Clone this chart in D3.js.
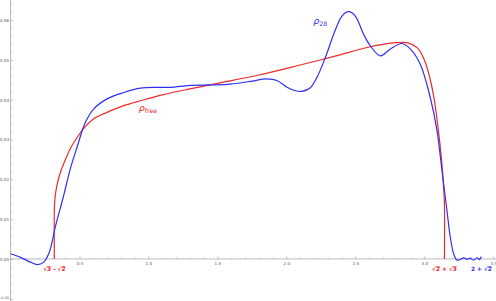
<!DOCTYPE html>
<html><head><meta charset="utf-8">
<script src="https://cdn.jsdelivr.net/npm/d3@7"></script>
<style>body{margin:0;background:#fff}svg{display:block}text{font-family:"DejaVu Sans",sans-serif}</style>
</head><body><svg id="c" width="496" height="301"></svg>
<script>
const redX=[0.318,0.318,0.322,0.33,0.345,0.365,0.39,0.435,0.483,0.531,0.604,0.70,0.82,0.95,1.1,1.3,1.5,1.8,2.1,2.34,2.585,2.70,2.80,2.875,2.95,3.00,3.04,3.07,3.10,3.125,3.14,3.146,3.146];
const redY=[0,0.0125,0.0150,0.0172,0.0197,0.0221,0.0243,0.0278,0.0305,0.0328,0.0352,0.0368,0.0385,0.0398,0.0412,0.0427,0.0441,0.0462,0.0487,0.0508,0.0531,0.0539,0.0543,0.0543,0.0530,0.0500,0.0455,0.0405,0.0330,0.025,0.018,0.014,0];
const blueX=[0,0.072,0.145,0.193,0.241,0.278,0.302,0.321,0.386,0.435,0.483,0.543,0.604,0.70,0.821,0.942,1.063,1.16,1.304,1.449,1.594,1.739,1.86,1.932,2.005,2.06,2.114,2.174,2.222,2.283,2.343,2.403,2.452,2.50,2.56,2.609,2.681,2.754,2.838,2.90,2.971,3.043,3.092,3.128,3.164,3.188,3.212,3.237,3.26,3.285,3.31,3.333,3.357,3.386,3.40,3.414];
const blueY=[0.0013,0.0004,-0.0008,-0.0014,-0.0008,0.0014,0.0043,0.0075,0.0160,0.0228,0.0281,0.0343,0.0377,0.0402,0.0418,0.0429,0.0431,0.0431,0.0436,0.0437,0.0439,0.0446,0.0452,0.0448,0.0431,0.0423,0.0421,0.0430,0.0456,0.0506,0.0564,0.0610,0.0621,0.0610,0.0564,0.0535,0.0510,0.0527,0.0541,0.0527,0.0489,0.0406,0.0323,0.0223,0.0123,0.0056,0.0014,-0.0003,-0.0001,0.0003,-0.0001,0.0002,-0.0003,0.0003,-0.0002,0.0006];
const xTickVals=[0.5,1.0,1.5,2.0,2.5,3.0,3.5];
const xTickLabels=["0.5","1.0","1.5","2.0","2.5","3.0","3.5"];
const yTickVals=[-0.01,0,0.01,0.02,0.03,0.04,0.05,0.06];
const yTickLabels=["-0.01","0.00","0.01","0.02","0.03","0.04","0.05","0.06"];

const svg=d3.select("#c");
const x=d3.scaleLinear().domain([0,3.52]).range([10.5,496]);
const y=d3.scaleLinear().domain([-0.01,0.06]).range([298.8,20]);
const axCol="#a8a8a8", lblCol="#555";

// minor ticks
const xMinor=d3.range(0.1,3.51,0.1).filter(v=>Math.abs(v*2-Math.round(v*2))>1e-6);
const yMinor=d3.range(-0.01,0.065,0.002).filter(v=>Math.abs(v*100-Math.round(v*100))>1e-6);
svg.append("g").attr("transform",`translate(0,${y(0)})`)
  .call(d3.axisBottom(x).tickValues(xMinor).tickSizeInner(-1.4).tickSizeOuter(0).tickFormat(""))
  .call(g=>{g.select(".domain").remove();g.selectAll("line").attr("stroke",axCol).attr("stroke-width",0.6);});
svg.append("g").attr("transform",`translate(${x(0)},0)`)
  .call(d3.axisLeft(y).tickValues(yMinor).tickSizeInner(-1.4).tickSizeOuter(0).tickFormat(""))
  .call(g=>{g.select(".domain").remove();g.selectAll("line").attr("stroke",axCol).attr("stroke-width",0.6);});

// major axes
const gx=svg.append("g").attr("transform",`translate(0,${y(0)})`)
  .call(d3.axisBottom(x).tickValues(xTickVals).tickSizeInner(-2.6).tickSizeOuter(0).tickPadding(3.2)
    .tickFormat((d,i)=>xTickLabels[i]));
gx.select(".domain").attr("d",`M${x.range()[0]-0.5},0H496`).attr("stroke",axCol).attr("stroke-width",0.8);
gx.selectAll("line").attr("stroke",axCol).attr("stroke-width",0.7);
gx.selectAll("text").attr("fill",lblCol).attr("font-size",4.2).attr("font-family","DejaVu Sans");

const gy=svg.append("g").attr("transform",`translate(${x(0)},0)`)
  .call(d3.axisLeft(y).tickValues(yTickVals).tickSizeInner(-2.6).tickSizeOuter(0).tickPadding(1.4)
    .tickFormat((d,i)=>yTickLabels[i]));
gy.select(".domain").attr("d","M0,0V301").attr("stroke",axCol).attr("stroke-width",0.8);
gy.selectAll("line").attr("stroke",axCol).attr("stroke-width",0.7);
gy.selectAll("text").attr("fill",lblCol).attr("font-family","DejaVu Sans")
  .attr("font-size",(d,i)=>i===0?3.7:4.2)
  .attr("dy",(d,i)=>i===0?"-0.1em":"0.32em");

const line=d3.line().x(d=>x(d[0])).y(d=>y(d[1])).curve(d3.curveCatmullRom.alpha(0.5));
svg.append("path").datum(redX.map((v,i)=>[v,redY[i]])).attr("d",line)
  .attr("fill","none").attr("stroke","#f02828").attr("stroke-width",1.2);
svg.append("path").datum(blueX.map((v,i)=>[v,blueY[i]])).attr("d",line)
  .attr("fill","none").attr("stroke","#2f2ff5").attr("stroke-width",1.2);

// curve labels
function rho(tx,ty,sub,col){
  const t=svg.append("text").attr("x",tx).attr("y",ty).attr("fill",col);
  t.append("tspan").text("ρ").attr("font-size",9.5).attr("font-style","italic");
  t.append("tspan").text(sub).attr("font-size",6.2).attr("dy",2);
}
rho(x(2.195),y(0.0591),"28","#2f2ff5");
rho(x(0.93),y(0.0372),"free","#f02828");

// edge labels
function edge(xv,parts,col){
  const t=svg.append("text").attr("x",x(xv)).attr("y",y(0)+12.5).attr("text-anchor","middle")
    .attr("fill",col).attr("font-size",5.8).attr("font-weight","bold");
  parts.forEach(p=>{t.append("tspan").text(p[0]).style("text-decoration",p[1]?"overline":"none");});
}
edge(Math.sqrt(3)-Math.sqrt(2),[["√",0],["3",1],[" - ",0],["√",0],["2",1]],"#f02828");
edge(Math.sqrt(3)+Math.sqrt(2),[["√",0],["2",1],[" + ",0],["√",0],["3",1]],"#f02828");
edge(2+Math.sqrt(2),[["2 + ",0],["√",0],["2",1]],"#2f2ff5");
</script></body></html>
